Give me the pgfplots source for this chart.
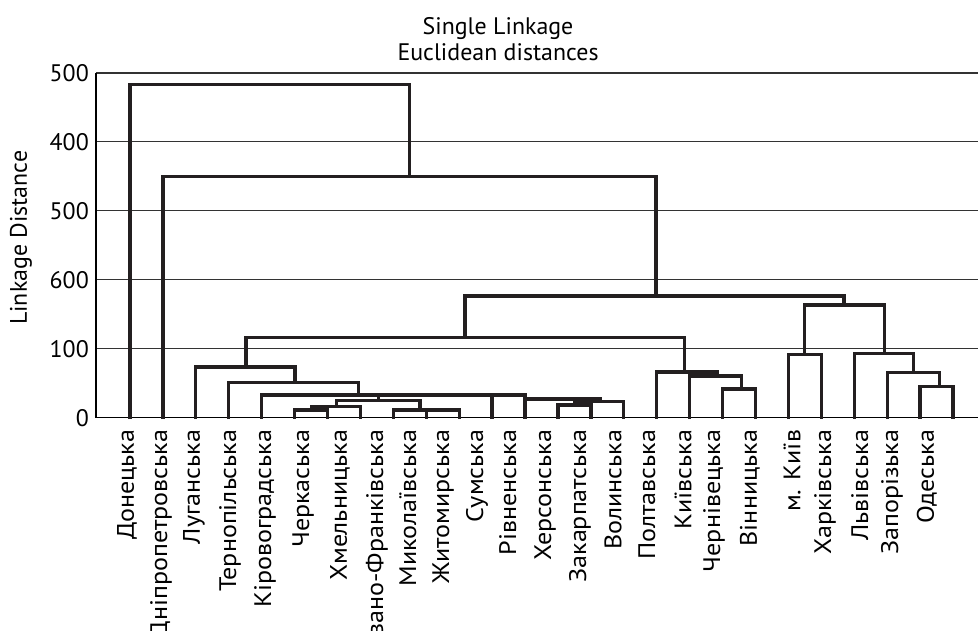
\documentclass[border=0pt]{standalone}
\usepackage{pgfplots}
\pgfplotsset{compat=1.18}
\usepackage{fontspec}
\setmainfont{PT Sans}
\newfontfamily\labfont[FakeStretch=1.09]{PT Sans}
\begin{document}
\begin{tikzpicture}
\begin{axis}[
  scale only axis,
  width=882bp, height=344.7bp,
  xmin=-1.033, xmax=25.76, ymin=0, ymax=5,
  axis x line*=bottom, axis y line*=left,
  axis line style={-, black, line width=1.4bp},
  clip=false,
  ytick={0,1,2,3,4,5},
  yticklabels={0,100,600,500,400,500},
  ymajorgrids,
  grid style={black!80, line width=1.1bp},
  major tick length=0pt,
  xtick={-0.09,0.94,1.94,3.04,4.10,5.26,6.38,7.50,8.44,9.51,10.54,11.48,12.61,13.67,14.67,15.70,16.80,17.74,18.83,20.11,21.11,22.17,23.15,24.21},
  xticklabels={{Донецька},{Дніпропетровська},{Луганська},{Тернопільська},{Кіровоградська},{Черкаська},{Хмельницька},{Івано-Франківська},{Миколаївська},{Житомирська},{Сумська},{Рівненська},{Херсонська},{Закарпатська},{Волинська},{Полтавська},{Київська},{Чернівецька},{Вінницька},{м. Київ},{Харківська},{Львівська},{Запорізька},{Одеська}},
  tick label style={font=\fontsize{24}{28}\selectfont, inner sep=0pt},
  xticklabel style={font=\labfont\fontsize{24}{28}\selectfont, rotate=90, anchor=east},
  xticklabel shift=12bp,
  yticklabel shift=7bp,
  /pgf/number format/assume math mode=true,
  ylabel={Linkage Distance},
  ylabel style={font=\fontsize{24}{28}\selectfont, at={(axis description cs:-0.085,0.522)}, anchor=center, rotate=0},
  dend/.style={color={rgb,255:red,35;green,31;blue,32}, line width=3.3bp, line join=miter, line cap=rect, mark=none},
]
\addplot[dend] coordinates {(0,0) (0,4.83) (8.48,4.83) (8.48,3.50)};
\addplot[dend] coordinates {(1,0) (1,3.50) (15.98,3.50) (15.98,1.766)};
\addplot[dend] coordinates {(10.18,1.16) (10.18,1.766) (21.69,1.766) (21.69,1.633)};
\addplot[dend] coordinates {(20.48,0.92) (20.48,1.633) (22.93,1.633) (22.93,0.935)};
\addplot[dend] coordinates {(20,0) (20,0.92) (21,0.92) (21,0)};
\addplot[dend] coordinates {(22,0) (22,0.935) (23.79,0.935) (23.79,0.659)};
\addplot[dend] coordinates {(23,0) (23,0.659) (24.58,0.659) (24.58,0.45)};
\addplot[dend] coordinates {(24,0) (24,0.45) (25,0.45) (25,0)};
\addplot[dend] coordinates {(3.52,0.736) (3.52,1.16) (16.84,1.16) (16.84,0.663)};
\addplot[dend] coordinates {(16,0) (16,0.663) (17.84,0.663)};
\addplot[dend] coordinates {(17,0) (17,0.663)};
\addplot[dend] coordinates {(17,0.605) (18.58,0.605) (18.58,0.417)};
\addplot[dend] coordinates {(18,0) (18,0.417) (19,0.417) (19,0)};
\addplot[dend] coordinates {(2,0) (2,0.736) (5.01,0.736) (5.01,0.508)};
\addplot[dend] coordinates {(3,0) (3,0.508) (6.94,0.508) (6.94,0.329)};
\addplot[dend] coordinates {(4,0) (4,0.329) (12,0.329) (12,0)};
\addplot[dend] coordinates {(7.54,0.329) (7.54,0.25)};
\addplot[dend] coordinates {(6.28,0.16) (6.28,0.25) (8.81,0.25) (8.81,0.112)};
\addplot[dend] coordinates {(5.52,0.112) (5.52,0.16) (7,0.16) (7,0)};
\addplot[dend] coordinates {(5,0) (5,0.112) (6,0.112) (6,0)};
\addplot[dend] coordinates {(8,0) (8,0.112) (10,0.112) (10,0)};
\addplot[dend] coordinates {(9,0) (9,0.112)};
\addplot[dend] coordinates {(11,0) (11,0.329)};
\addplot[dend] coordinates {(12,0.271) (14.28,0.271) (14.28,0.232)};
\addplot[dend] coordinates {(13.52,0.184) (13.52,0.232) (15,0.232) (15,0)};
\addplot[dend] coordinates {(13,0) (13,0.184) (14,0.184) (14,0)};
\node[anchor=base, font=\fontsize{24}{28}\selectfont, yshift=12bp] at (axis cs:11.18,5) {Euclidean distances};
\node[anchor=base, font=\fontsize{24}{28}\selectfont, yshift=38bp] at (axis cs:11.18,5) {Single Linkage};
\coordinate (bl) at (rel axis cs:0,0);
\coordinate (tr) at (rel axis cs:1,1);
\end{axis}
\pgfresetboundingbox
\path ([xshift=-96bp,yshift=-213.3bp]bl) rectangle ([yshift=73bp]tr);
\end{tikzpicture}
\end{document}
